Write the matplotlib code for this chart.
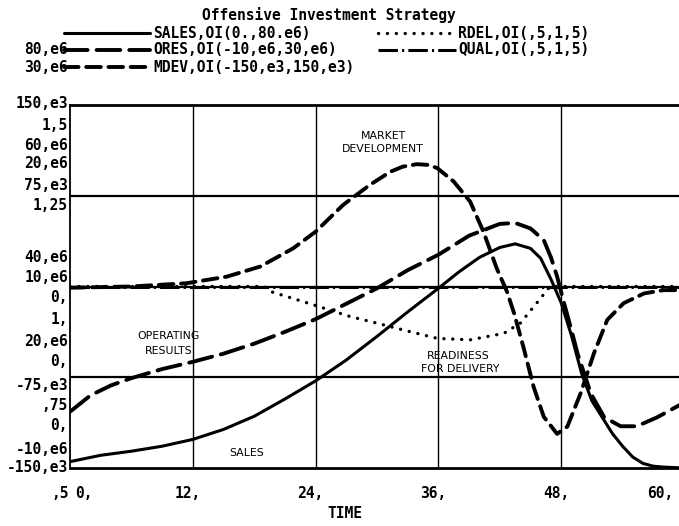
import matplotlib
matplotlib.use("Agg")
import matplotlib.pyplot as plt
from matplotlib.lines import Line2D

plt.rcParams['lines.scale_dashes'] = False

# ---------------- data ----------------
SALES_T = [0, 3, 6, 9, 12, 15, 18, 21, 24, 27, 30, 33, 36, 38, 40, 42, 43.5, 45, 46, 47, 48, 49, 50, 51, 52, 53, 54, 55, 56, 57, 58, 60]
SALES = [1.4e6, 2.8e6, 3.7e6, 4.8e6, 6.3e6, 8.5e6, 11.4e6, 15.2e6, 19.2e6, 23.8e6, 29.0e6, 34.4e6, 39.6e6, 43.2e6, 46.4e6, 48.6e6, 49.4e6, 48.4e6, 46.2e6, 41.6e6, 36.4e6, 29.2e6, 20.8e6, 14.8e6, 11.2e6, 7.6e6, 4.8e6, 2.4e6, 1.0e6, 0.4e6, 0.2e6, 0.0]

ORES_T = [0, 2, 4, 6, 9, 12, 15, 18, 21, 24, 27, 30, 33, 36, 39, 42, 43.5, 45, 46.3, 47, 47.6, 48.2, 49, 49.6, 50.9, 52.2, 53.8, 55.4, 57.4, 60]
ORES = [-3.8e6, -2.0e6, -0.9e6, -0.1e6, 0.9e6, 1.7e6, 2.6e6, 3.7e6, 5.0e6, 6.4e6, 8.1e6, 9.8e6, 11.8e6, 13.5e6, 15.6e6, 16.9e6, 17.0e6, 16.4e6, 15.1e6, 13.2e6, 11.1e6, 8.5e6, 5.2e6, 2.6e6, -1.8e6, -4.4e6, -5.4e6, -5.4e6, -4.4e6, -2.8e6]

MDEV_T = [0, 6, 11.4, 15.3, 18.6, 21.8, 24, 26.7, 29.3, 31.3, 32.5, 33.9, 35, 35.9, 37.5, 39.1, 40.4, 41.7, 42.7, 43.4, 44.3, 45.3, 46.3, 47.6, 48.6, 49.9, 51.2, 52.5, 54.1, 56.1, 58, 60]
MDEV = [-1e3, 0, 2.7e3, 8.1e3, 16.5e3, 31.5e3, 45.3e3, 67.5e3, 84e3, 94.8e3, 99e3, 101.1e3, 100.5e3, 97.8e3, 86.7e3, 70.2e3, 45.3e3, 15e3, -4.2e3, -22.2e3, -49.8e3, -82.8e3, -107.7e3, -121.8e3, -115.8e3, -88.2e3, -55.2e3, -27.6e3, -13.8e3, -5.7e3, -3e3, -3e3]

RDEL_T = [0, 19, 19.6, 21.8, 24.4, 27.4, 30, 32.6, 35.9, 39.1, 42.4, 44, 45.6, 46.9, 60]
RDEL = [1.0, 1.0, 0.986, 0.967, 0.944, 0.917, 0.899, 0.88, 0.857, 0.853, 0.871, 0.899, 0.954, 1.0, 1.0]

QUAL_T = [0, 60]
QUAL = [1.0, 1.0]

TITLE = "Offensive Investment Strategy"
LEGEND_LEFT = ["SALES,OI(0.,80.e6)", "ORES,OI(-10,e6,30,e6)", "MDEV,OI(-150,e3,150,e3)"]
LEGEND_RIGHT = ["RDEL,OI(,5,1,5)", "QUAL,OI(,5,1,5)"]
SCALE_LABELS = ["80,e6", "30,e6", "150,e3", "1,5", "60,e6", "20,e6", "75,e3", "1,25",
                "40,e6", "10,e6", "0,", "1,", "20,e6", "0,", "-75,e3", ",75",
                "0,", "-10,e6", "-150,e3"]
TIME_TICKS = [12, 24, 36, 48]
TIME_LABELS = ["12,", "24,", "36,", "48,"]

# ---------------- layout ----------------
W, H = 679, 526
fig = plt.figure(figsize=(W / 100, H / 100), dpi=100)
fig.patch.set_facecolor("white")

def fx(x):
    return x / W

def fy(y):
    return 1 - y / H

LEFT, RIGHT, TOP, BOT = 70, 684, 105, 468
pos = [fx(LEFT), fy(BOT), (RIGHT - LEFT) / W, (BOT - TOP) / H]

ax = fig.add_axes(pos)
ax.set_xlim(0, 60)
ax.set_ylim(0, 4)
ax.set_xticks([])
ax.set_yticks([])
for s in ["right"]:
    ax.spines[s].set_visible(False)
ax.spines["top"].set_linewidth(2.0)
ax.spines["bottom"].set_linewidth(2.0)
ax.spines["left"].set_linewidth(1.3)
for yv in [1, 2, 3]:
    ax.axhline(yv, color="black", lw=1.6, zorder=1)
for xv in TIME_TICKS:
    ax.axvline(xv, color="black", lw=1.0, zorder=1)

def overlay(ylim):
    a = fig.add_axes(pos, sharex=ax)
    a.set_ylim(*ylim)
    a.axis("off")
    a.patch.set_visible(False)
    return a

STY_SALES = dict(color="black", lw=2.2, linestyle="-", solid_capstyle="round")
STY_ORES = dict(color="black", lw=2.8, linestyle=(0, (17, 6.5)), dash_capstyle="round")
STY_MDEV = dict(color="black", lw=2.8, linestyle=(0, (10.5, 5.5)), dash_capstyle="round")
STY_RDEL = dict(color="black", lw=2.4, linestyle=(0, (0.1, 6.3)), dash_capstyle="round")
STY_QUAL = dict(color="black", lw=2.2, linestyle=(0, (14, 3, 1.5, 3)), dash_capstyle="butt")

a_sales = overlay((0, 80e6))
a_sales.plot(SALES_T, SALES, **STY_SALES)
a_ores = overlay((-10e6, 30e6))
a_ores.plot(ORES_T, ORES, **STY_ORES)
a_mdev = overlay((-150e3, 150e3))
a_mdev.plot(MDEV_T, MDEV, **STY_MDEV)
a_rdel = overlay((0.5, 1.5))
a_rdel.plot(RDEL_T, RDEL, **STY_RDEL)
a_qual = overlay((0.5, 1.5))
a_qual.plot(QUAL_T, QUAL, **STY_QUAL)
ax.set_xlim(0, 60)

# ---------------- text ----------------
FONT = dict(family="DejaVu Sans Mono", weight="bold", fontsize=10.5)
SMALL = dict(family="DejaVu Sans", fontsize=7.8)

fig.text(fx(329), fy(15), TITLE, ha="center", va="center", **FONT)

# legend rows
rows_y = [33, 50, 67]
left_styles = [STY_SALES, STY_ORES, STY_MDEV]
for y, lab, sty in zip(rows_y, LEGEND_LEFT, left_styles):
    fig.add_artist(Line2D([fx(64), fx(150)], [fy(y), fy(y)], transform=fig.transFigure, **sty))
    fig.text(fx(153), fy(y), lab, ha="left", va="center", **FONT)
right_styles = [STY_RDEL, STY_QUAL]
for y, lab, sty in zip(rows_y[:2], LEGEND_RIGHT, right_styles):
    fig.add_artist(Line2D([fx(378), fx(456)], [fy(y), fy(y)], transform=fig.transFigure, **sty))
    fig.text(fx(458), fy(y), lab, ha="left", va="center", **FONT)

# stacked scale labels on the left
label_y = [50, 67, 104, 126, 145, 164, 186, 206, 258, 277, 297, 320, 341, 362, 385, 405, 426, 449, 468]
for y, lab in zip(label_y, SCALE_LABELS):
    fig.text(fx(68), fy(y), lab, ha="right", va="center", **FONT)

# time axis labels
fig.text(fx(60), fy(493), ",5", ha="center", va="center", **FONT)
fig.text(fx(84), fy(493), "0,", ha="center", va="center", **FONT)
for t, lab in zip(TIME_TICKS, TIME_LABELS):
    x_px = LEFT + t * (RIGHT - LEFT) / 60.0
    fig.text(fx(x_px - 5), fy(493), lab, ha="center", va="center", **FONT)
fig.text(fx(660), fy(493), "60,", ha="center", va="center", **FONT)
fig.text(fx(345), fy(513), "TIME", ha="center", va="center", **FONT)

# curve annotations
fig.text(fx(383), fy(136), "MARKET", ha="center", va="center", **SMALL)
fig.text(fx(383), fy(149), "DEVELOPMENT", ha="center", va="center", **SMALL)
fig.text(fx(169), fy(336), "OPERATING", ha="center", va="center", **SMALL)
fig.text(fx(169), fy(351), "RESULTS", ha="center", va="center", **SMALL)
fig.text(fx(458), fy(356), "READINESS", ha="center", va="center", **SMALL)
fig.text(fx(460), fy(369), "FOR DELIVERY", ha="center", va="center", **SMALL)
fig.text(fx(247), fy(453), "SALES", ha="center", va="center", **SMALL)

fig.savefig("out.png", dpi=100)
